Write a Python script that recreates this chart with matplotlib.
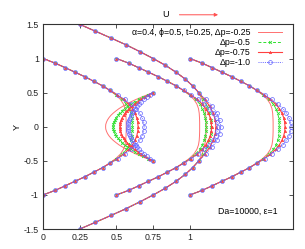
import matplotlib
matplotlib.use('Agg')
import matplotlib.pyplot as plt

plt.rcParams['font.family'] = ['Liberation Sans', 'DejaVu Sans']

# ---------------- data ----------------
labels = ['α=0.4, ϕ=0.5, t=0.25, Δp=-0.25', 'Δp=-0.5', 'Δp=-0.75', 'Δp=-1.0']

# family S: paths starting at the walls y=±1 (offsets from start x)
y_S = [1.0, 0.933, 0.867, 0.8, 0.733, 0.667, 0.6, 0.533, 0.467, 0.4, 0.333, 0.267, 0.2, 0.133, 0.067, 0.0,
       -0.067, -0.133, -0.2, -0.267, -0.333, -0.4, -0.467, -0.533, -0.6, -0.667, -0.733, -0.8, -0.867, -0.933, -1.0]
xS_dp025 = [0, 0.082, 0.150, 0.217, 0.285, 0.345, 0.405, 0.452, 0.495, 0.527, 0.547, 0.558, 0.563, 0.565, 0.566, 0.566,
            0.566, 0.565, 0.563, 0.558, 0.547, 0.527, 0.495, 0.452, 0.405, 0.345, 0.285, 0.217, 0.150, 0.082, 0]
xS_dp05 = [0, 0.082, 0.150, 0.217, 0.285, 0.345, 0.405, 0.455, 0.500, 0.538, 0.567, 0.585, 0.597, 0.604, 0.607, 0.608,
           0.607, 0.604, 0.597, 0.585, 0.567, 0.538, 0.500, 0.455, 0.405, 0.345, 0.285, 0.217, 0.150, 0.082, 0]
xS_dp075 = [0, 0.082, 0.150, 0.217, 0.285, 0.345, 0.405, 0.457, 0.505, 0.548, 0.583, 0.608, 0.626, 0.638, 0.645, 0.647,
            0.645, 0.638, 0.626, 0.608, 0.583, 0.548, 0.505, 0.457, 0.405, 0.345, 0.285, 0.217, 0.150, 0.082, 0]
xS_dp10 = [0, 0.082, 0.150, 0.217, 0.285, 0.345, 0.405, 0.459, 0.510, 0.556, 0.598, 0.632, 0.657, 0.674, 0.685, 0.689,
           0.685, 0.674, 0.657, 0.632, 0.598, 0.556, 0.510, 0.459, 0.405, 0.345, 0.285, 0.217, 0.150, 0.082, 0]
start_S = [0.0, 0.5, 1.0]

# family T: path starting at the walls y=±1.5, x=0.25
y_T = [1.5, 1.4, 1.3, 1.2, 1.1, 1.0, 0.9, 0.8, 0.7, 0.6, 0.5, 0.4, 0.3, 0.2, 0.1, 0.0,
       -0.1, -0.2, -0.3, -0.4, -0.5, -0.6, -0.7, -0.8, -0.9, -1.0, -1.1, -1.2, -1.3, -1.4, -1.5]
xT_dp025 = [0.25, 0.357, 0.463, 0.566, 0.66, 0.75, 0.833, 0.905, 0.967, 1.018, 1.06, 1.082, 1.097, 1.106, 1.110, 1.112,
            1.110, 1.106, 1.097, 1.082, 1.06, 1.018, 0.967, 0.905, 0.833, 0.75, 0.66, 0.566, 0.463, 0.357, 0.25]
xT_dp05 = [0.25, 0.357, 0.463, 0.566, 0.66, 0.75, 0.833, 0.905, 0.967, 1.018, 1.06, 1.092, 1.117, 1.133, 1.142, 1.145,
           1.142, 1.133, 1.117, 1.092, 1.06, 1.018, 0.967, 0.905, 0.833, 0.75, 0.66, 0.566, 0.463, 0.357, 0.25]
xT_dp075 = [0.25, 0.357, 0.463, 0.566, 0.66, 0.75, 0.833, 0.905, 0.967, 1.018, 1.06, 1.100, 1.135, 1.158, 1.172, 1.177,
            1.172, 1.158, 1.135, 1.100, 1.06, 1.018, 0.967, 0.905, 0.833, 0.75, 0.66, 0.566, 0.463, 0.357, 0.25]
xT_dp10 = [0.25, 0.357, 0.463, 0.566, 0.66, 0.75, 0.833, 0.905, 0.967, 1.018, 1.06, 1.107, 1.152, 1.183, 1.203, 1.210,
           1.203, 1.183, 1.152, 1.107, 1.06, 1.018, 0.967, 0.905, 0.833, 0.75, 0.66, 0.566, 0.463, 0.357, 0.25]

# family B: path starting at the walls y=±0.5, x=0.75 (moves backwards)
y_B = [0.5, 0.467, 0.433, 0.4, 0.367, 0.333, 0.3, 0.267, 0.233, 0.2, 0.167, 0.133, 0.1, 0.067, 0.033, 0.0,
       -0.033, -0.067, -0.1, -0.133, -0.167, -0.2, -0.233, -0.267, -0.3, -0.333, -0.367, -0.4, -0.433, -0.467, -0.5]
xB_dp025 = [0.75, 0.708, 0.669, 0.633, 0.600, 0.570, 0.543, 0.518, 0.497, 0.478, 0.462, 0.449, 0.439, 0.432, 0.427, 0.426,
            0.427, 0.432, 0.439, 0.449, 0.462, 0.478, 0.497, 0.518, 0.543, 0.570, 0.600, 0.633, 0.669, 0.708, 0.75]
xB_dp05 = [0.75, 0.715, 0.682, 0.652, 0.624, 0.599, 0.576, 0.555, 0.537, 0.522, 0.508, 0.497, 0.489, 0.483, 0.479, 0.478,
           0.479, 0.483, 0.489, 0.497, 0.508, 0.522, 0.537, 0.555, 0.576, 0.599, 0.624, 0.652, 0.682, 0.715, 0.75]
xB_dp075 = [0.75, 0.721, 0.693, 0.668, 0.645, 0.624, 0.605, 0.587, 0.572, 0.559, 0.548, 0.539, 0.532, 0.527, 0.524, 0.523,
            0.524, 0.527, 0.532, 0.539, 0.548, 0.559, 0.572, 0.587, 0.605, 0.624, 0.645, 0.668, 0.693, 0.721, 0.75]
xB_dp10 = [0.75, 0.728, 0.707, 0.688, 0.670, 0.654, 0.640, 0.627, 0.615, 0.606, 0.597, 0.590, 0.585, 0.581, 0.579, 0.578,
           0.579, 0.581, 0.585, 0.590, 0.597, 0.606, 0.615, 0.627, 0.640, 0.654, 0.670, 0.688, 0.707, 0.728, 0.75]

x_ticks = [0, 0.25, 0.5, 0.75, 1]
x_ticklabels = ['0', '0.25', '0.5', '0.75', '1']
y_ticks = [-1.5, -1, -0.5, 0, 0.5, 1, 1.5]
y_ticklabels = ['-1.5', '-1', '-0.5', '0', '0.5', '1', '1.5']

# ---------------- styles ----------------
styles = [
    dict(color='#ff7070', lw=0.7, ls='-', marker=None),
    dict(color='#30e030', lw=0.7, ls=(0, (3, 2)), marker='x', ms=2.0, mew=0.6),
    dict(color='#ff4040', lw=0.8, ls='-', marker='^', ms=1.8, mew=0.4),
    dict(color='#6464ff', lw=0.7, ls=(0, (1, 1.2)), marker='o', ms=2.8, mew=0.5, mfc='none'),
]
S_sets = [xS_dp025, xS_dp05, xS_dp075, xS_dp10]
T_sets = [xT_dp025, xT_dp05, xT_dp075, xT_dp10]
B_sets = [xB_dp025, xB_dp05, xB_dp075, xB_dp10]

fig = plt.figure(figsize=(3.05, 2.49), dpi=100)
ax = fig.add_axes([0.141, 0.080, 0.819, 0.822])

for k in range(4):
    st = styles[k]
    first = True
    for x0 in start_S:
        ax.plot([x0 + v for v in S_sets[k]], y_S, label=labels[k] if first else None, **st)
        first = False
    ax.plot(T_sets[k], y_T, **st)
    ax.plot(B_sets[k], y_B, **st)

ax.set_xlim(0, 1.7)
ax.set_ylim(-1.5, 1.5)
ax.set_xticks(x_ticks)
ax.set_xticklabels(x_ticklabels)
ax.set_yticks(y_ticks)
ax.set_yticklabels(y_ticklabels)
ax.tick_params(direction='in', length=3, width=0.6, labelsize=6.3, top=True, right=True,
               colors='#333333', labelcolor='#222222', pad=3)
for sp in ax.spines.values():
    sp.set_linewidth(0.8)
    sp.set_color('#333333')
ax.set_ylabel('Y', fontsize=6.5)
ax.yaxis.set_label_coords(-0.085, 0.5)

leg = ax.legend(loc='upper right', bbox_to_anchor=(0.957, 0.98), markerfirst=False, frameon=False,
                fontsize=6.3, handlelength=2.75, handletextpad=0.8, labelspacing=0.1,
                borderaxespad=0.0, borderpad=0.0, numpoints=1)

ax.text(0.491, 1.046, 'U', transform=ax.transAxes, fontsize=6.5, ha='center', va='center')
ax.annotate('', xy=(0.712, 1.047), xytext=(0.535, 1.047), xycoords='axes fraction',
            textcoords='axes fraction',
            arrowprops=dict(arrowstyle='-|>', color='#ff5050', lw=0.7, mutation_scale=5),
            annotation_clip=False)
ax.text(0.938, 0.085, 'Da=10000, ε=1', transform=ax.transAxes, fontsize=6.3, ha='right', va='center')

fig.savefig('out.png', dpi=100)
